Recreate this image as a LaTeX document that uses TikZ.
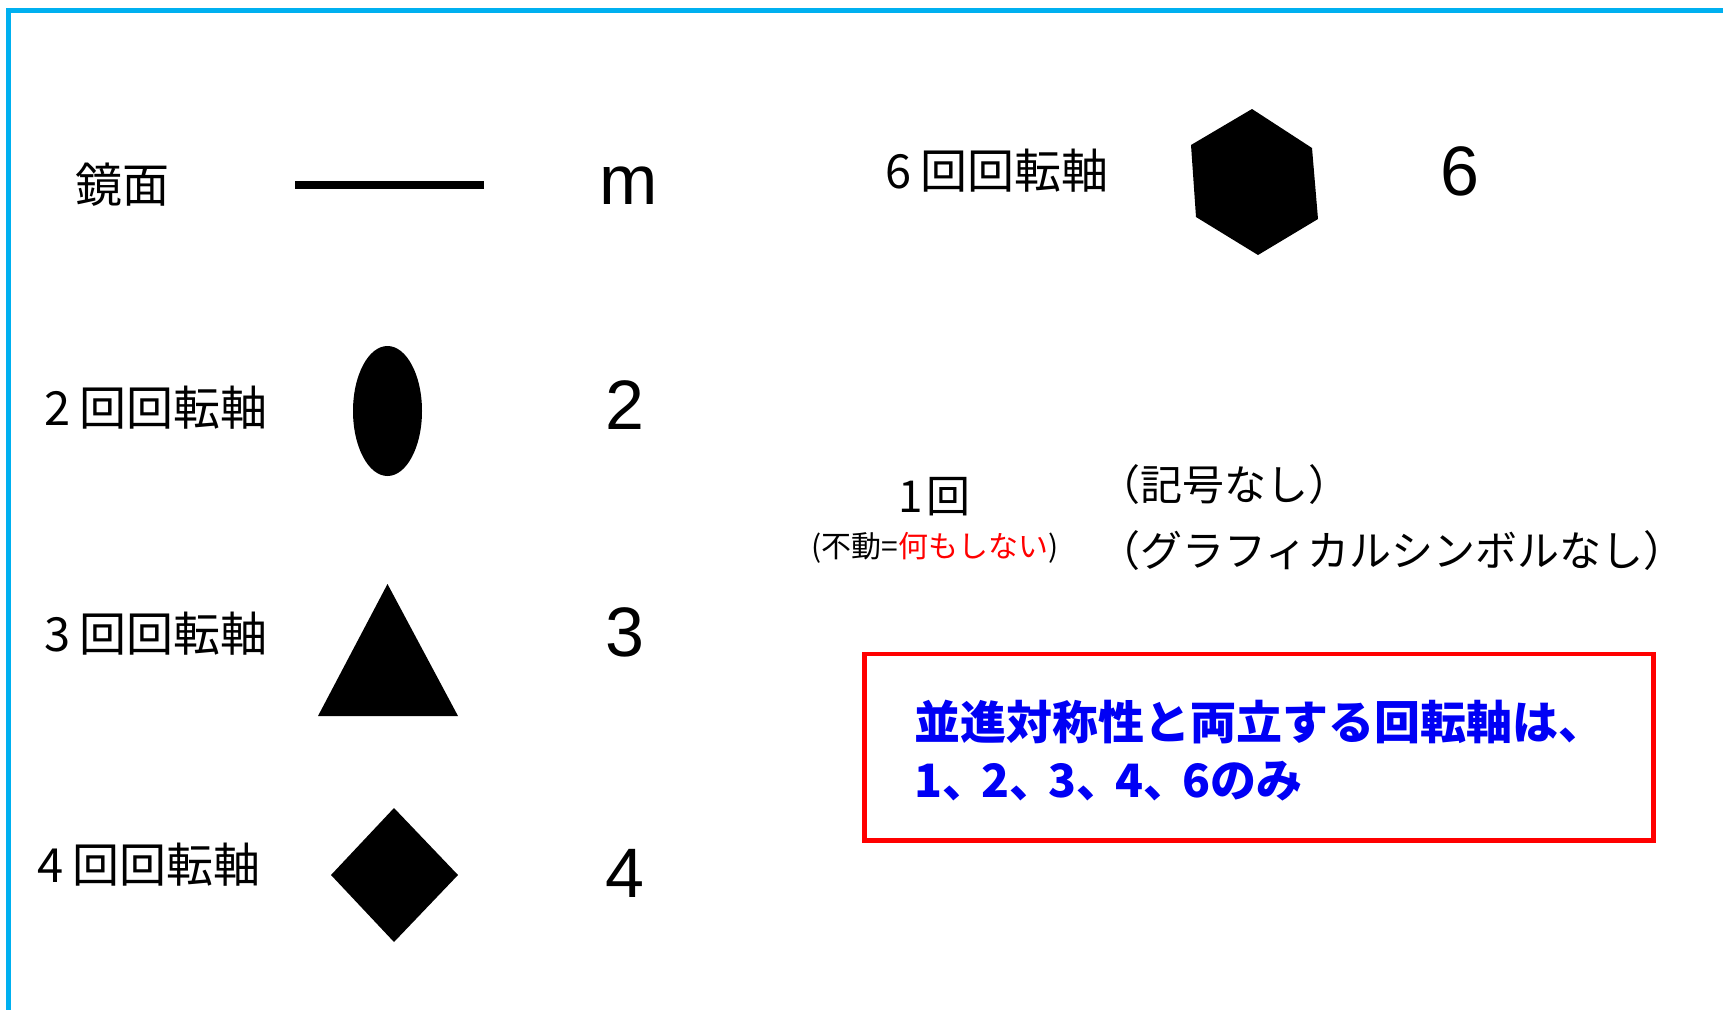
\documentclass[tikz,border=0pt]{standalone}
\usepackage{fontspec}
\newfontfamily\cjk{Noto Sans CJK JP}
\newfontfamily\arial{Liberation Sans}
\definecolor{frameblue}{RGB}{0,176,240}
\definecolor{boxred}{RGB}{255,0,0}
\definecolor{textblue}{RGB}{0,0,245}
\begin{document}
\begin{tikzpicture}[x=1pt,y=-1pt,
  lbl/.style={anchor=west,inner sep=0pt,font=\cjk\fontsize{47}{50}\selectfont},
  num/.style={anchor=center,inner sep=0pt,font=\arial\fontsize{70}{80}\selectfont},
  note/.style={anchor=base west,inner sep=0pt,text=textblue,font=\cjk\bfseries\fontsize{46}{50}\selectfont}]
\useasboundingbox (0,0) rectangle (1723,1010);
\fill[white] (0,0) rectangle (1723,1010);
% frame
\draw[frameblue,line width=5pt] (1723,10.5) -- (8.5,10.5) -- (8.5,1010);
% left column labels
\node[lbl] (lmirror) at (75,185) {鏡面};
\node[lbl] (l2) at (44,408) {2\kern9pt回回転軸};
\node[lbl] (l3) at (44,634) {3\kern9pt回回転軸};
\node[lbl] (l4) at (37,865) {4\kern9pt回回転軸};
% symbols
\draw[line width=8pt] (295,185) -- (484,185);
\fill (387.5,411) ellipse [x radius=34.5, y radius=65];
\fill (387.5,584) -- (458,716) -- (318,716) -- cycle;
\fill (394,808) -- (458,875) -- (394,942) -- (331,875) -- cycle;
% numbers
\node[num] (nm) at (629,186) {m};
\node[num] (n2) at (625,405) {2};
\node[num] (n3) at (625,632) {3};
\node[num] (n4) at (625,873) {4};
% right column
\node[lbl] (l6) at (885,171) {6\kern9pt回回転軸};
\fill (1252,109) -- (1312,148) -- (1318,219) -- (1258,255) -- (1196,217) -- (1191,145) -- cycle;
\node[num] (n6) at (1460,171) {6};
\node[lbl,font=\cjk\fontsize{44}{48}\selectfont] (l1) at (898,497) {1\kern4pt回};
\node[lbl,font=\cjk\fontsize{30}{32}\selectfont] (l1sub) at (811,548) {(不動=\textcolor{boxred}{何もしない})};
\node[lbl,font=\cjk\fontsize{42}{44}\selectfont] (none1) at (1098,485) {（記号なし）};
\node[lbl,font=\cjk\fontsize{42}{44}\selectfont] (none2) at (1098,551) {（グラフィカルシンボルなし）};
% note box
\draw[boxred,line width=4.5pt] (864.5,654) rectangle (1653.5,840.5);
\node[note] (note1) at (914,739) {並進対称性と両立する回転軸は、};
\node[note] (note2) at (914,797) {1、\kern-7pt 2、\kern-7pt 3、\kern-7pt 4、\kern-7pt 6のみ};
\end{tikzpicture}
\end{document}
